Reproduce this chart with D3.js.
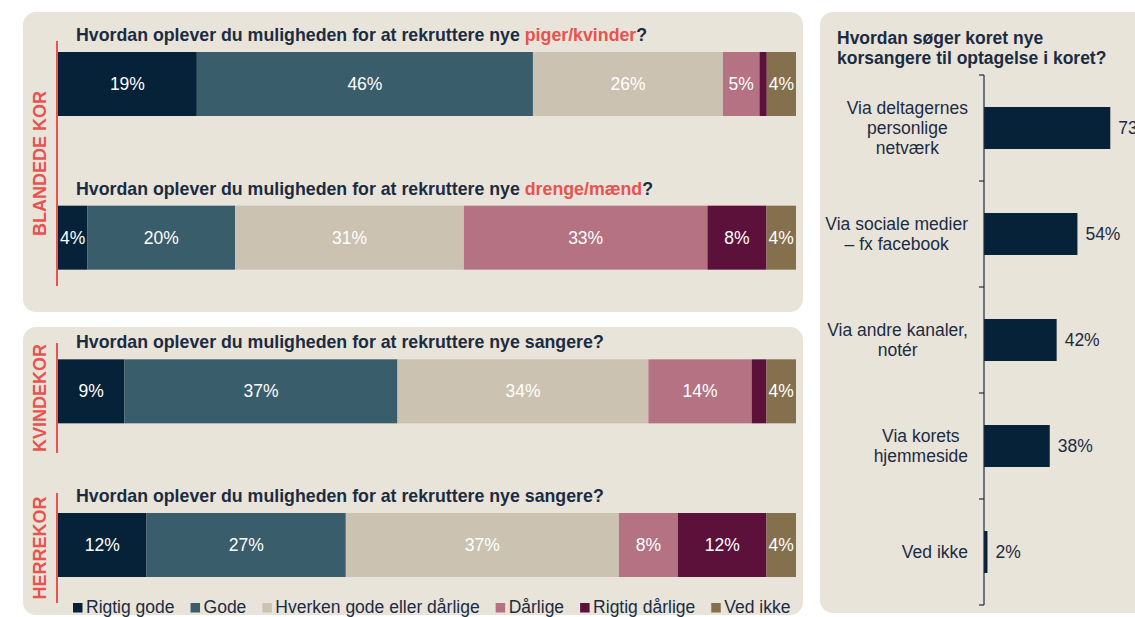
<!DOCTYPE html>
<html><head><meta charset="utf-8">
<script src="https://cdn.jsdelivr.net/npm/d3@7"></script>
<style>
body{margin:0;background:#fff;}
svg{display:block;}
text{font-family:"Liberation Sans",Arial,sans-serif;}
</style>
</head><body>
<svg id="c" width="1135" height="617"></svg>
<script>
// ---------- DATA ----------
const responses = ["Rigtig gode","Gode","Hverken gode eller dårlige","Dårlige","Rigtig dårlige","Ved ikke"];
const rows = ["piger/kvinder","drenge/mænd","kvindekor","herrekor"];
const rigtigGode     = [19, 4, 9, 12];
const gode           = [46, 20, 37, 27];
const hverken        = [26, 31, 34, 37];
const daarlige       = [5, 33, 14, 8];
const rigtigDaarlige = [1, 8, 2, 12];
const vedIkke        = [4, 4, 4, 4];
const titlePrefix = "Hvordan oplever du muligheden for at rekruttere nye ";
const titleSubjects = ["piger/kvinder", "drenge/mænd", "sangere", "sangere"];
const titleHighlight = [true, true, false, false];
const groups = ["BLANDEDE KOR", "KVINDEKOR", "HERREKOR"];
const channels = ["Via deltagernes\npersonlige\nnetværk", "Via sociale medier\n– fx facebook", "Via andre kanaler,\nnotér", "Via korets\nhjemmeside", "Ved ikke"];
const channelValues = [73, 54, 42, 38, 2];
const rightTitle = ["Hvordan søger koret nye", "korsangere til optagelse i koret?"];

// ---------- STYLE ----------
const colors = ["#052238","#3A5D6C","#CCC2B1","#B47282","#5C113B","#85704E"];
const dark = "#1B2C42", red = "#E8524F", panelBg = "#E9E4DA";
const FS = 17.5;

const svg = d3.select("#c");

// panels
const panels = [
  {x:23, y:12, w:780, h:300},
  {x:23, y:327, w:780, h:288},
  {x:820, y:12, w:340, h:601}
];
svg.selectAll("rect.panel").data(panels).join("rect").attr("class","panel")
  .attr("x",d=>d.x).attr("y",d=>d.y).attr("width",d=>d.w).attr("height",d=>d.h)
  .attr("rx",13).attr("fill",panelBg);

// ---------- STACKED BARS ----------
const table = rows.map((r,i)=>({
  row:r,
  [responses[0]]:rigtigGode[i], [responses[1]]:gode[i], [responses[2]]:hverken[i],
  [responses[3]]:daarlige[i], [responses[4]]:rigtigDaarlige[i], [responses[5]]:vedIkke[i]
}));
const series = d3.stack().keys(responses)(table);
const y = d3.scaleBand().domain(rows).range([52, 577]).paddingInner(0.5835).paddingOuter(0);
const xs = table.map(t => d3.scaleLinear().domain([0, d3.sum(responses, k=>t[k])]).range([58, 796]));
const color = d3.scaleOrdinal().domain(responses).range(colors);

const segs = svg.append("g");
series.forEach(s=>{
  s.forEach((d,i)=>{
    const x = xs[i];
    segs.append("rect")
      .attr("x", x(d[0])).attr("y", y(rows[i]))
      .attr("width", x(d[1]) - x(d[0])).attr("height", y.bandwidth())
      .attr("fill", color(s.key));
    const v = d[1]-d[0];
    if (v >= 3) {
      segs.append("text")
        .attr("x", (x(d[0])+x(d[1]))/2).attr("y", y(rows[i]) + y.bandwidth()/2)
        .attr("dy","0.35em").attr("text-anchor","middle")
        .attr("fill","#fff").attr("font-size",FS).text(v + "%");
    }
  });
});

// titles
rows.forEach((r,i)=>{
  const t = svg.append("text").attr("x",76).attr("y", y(r) - 11)
    .attr("font-size",17.75).attr("font-weight","bold").attr("fill",dark);
  t.append("tspan").text(titlePrefix);
  t.append("tspan").attr("fill", titleHighlight[i] ? red : dark).text(titleSubjects[i]);
  t.append("tspan").text("?");
});

// group markers
const groupSpans = [[41,286],[343,453],[493,603]];
groups.forEach((g,i)=>{
  const [a,b] = groupSpans[i];
  svg.append("line").attr("x1",57).attr("x2",57).attr("y1",a).attr("y2",b)
    .attr("stroke",red).attr("stroke-width",2);
  svg.append("text").attr("transform",`translate(45.5,${(a+b)/2}) rotate(-90)`)
    .attr("text-anchor","middle").attr("font-size",18).attr("font-weight","bold")
    .attr("fill",red).text(g);
});

// legend
let lx = 73;
const lg = svg.append("g");
responses.forEach((r,i)=>{
  lg.append("rect").attr("x",lx).attr("y",603).attr("width",9.5).attr("height",9.5).attr("fill",colors[i]);
  const t = lg.append("text").attr("x",lx+13).attr("y",613).attr("font-size",FS).attr("fill",dark).text(r);
  lx = lx + 13 + t.node().getComputedTextLength() + 16;
});

// ---------- RIGHT BAR CHART ----------
const yr = d3.scaleBand().domain(channels).range([75,605]).paddingInner(0.604).paddingOuter(0.302);
const xr = d3.scaleLinear().domain([0,100]).range([984,1157]);

svg.append("g").selectAll("rect").data(channels).join("rect")
  .attr("x", xr(0)).attr("y", d=>yr(d)).attr("width",(d,i)=>xr(channelValues[i])-xr(0))
  .attr("height", yr.bandwidth()).attr("fill", colors[0]);

// axis line and ticks at band boundaries
svg.append("line").attr("x1",xr(0)).attr("x2",xr(0)).attr("y1",yr.range()[0]).attr("y2",yr.range()[1])
  .attr("stroke",dark).attr("stroke-width",1.2);
const bounds = d3.range(channels.length+1).map(i => yr.range()[0] + i*yr.step());
svg.append("g").selectAll("line").data(bounds).join("line")
  .attr("x1",xr(0)-5).attr("x2",xr(0)).attr("y1",d=>d).attr("y2",d=>d)
  .attr("stroke",dark).attr("stroke-width",1.2);

// value labels
svg.append("g").selectAll("text").data(channels).join("text")
  .attr("x",(d,i)=>xr(channelValues[i]) + 8).attr("y",d=>yr(d)+yr.bandwidth()/2)
  .attr("dy","0.35em").attr("font-size",FS).attr("fill",dark)
  .text((d,i)=>channelValues[i] + "%");

// category labels (lines centered, block right-aligned)
channels.forEach(c=>{
  const lines = c.split("\n");
  const cy = yr(c) + yr.bandwidth()/2;
  const t = svg.append("text").attr("font-size",FS).attr("fill",dark).attr("text-anchor","middle");
  const spans = lines.map((l,j)=> t.append("tspan").attr("y", cy + (j - (lines.length-1)/2)*20).attr("dy","0.35em").text(l));
  const maxW = d3.max(spans, s => s.node().getComputedTextLength());
  spans.forEach(s => s.attr("x", 968 - maxW/2));
});

// right title
svg.append("g").selectAll("text").data(rightTitle).join("text")
  .attr("x",837).attr("y",(d,i)=>43.5 + i*20).attr("font-size",FS).attr("font-weight","bold")
  .attr("fill",dark).text(d=>d);
</script>
</body></html>
